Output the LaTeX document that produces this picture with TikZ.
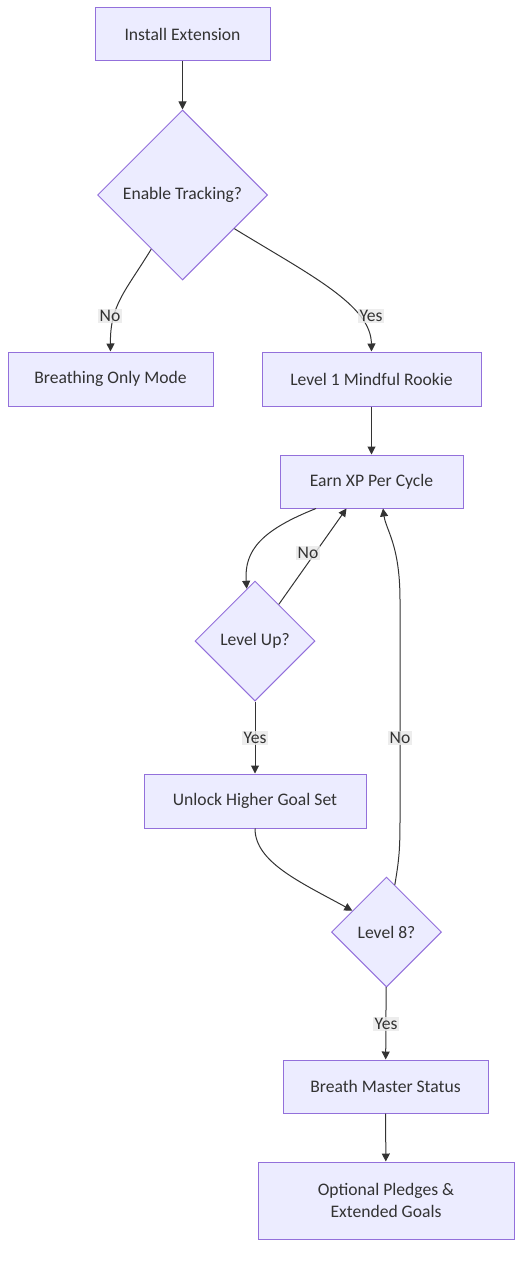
\documentclass[tikz,border=0pt]{standalone}
\usepackage{fontspec}
\setmainfont{Carlito}
\usetikzlibrary{shapes.geometric,arrows.meta}
\definecolor{nodefill}{HTML}{ECECFF}
\definecolor{nodeborder}{HTML}{9370DB}
\definecolor{linecol}{HTML}{333333}
\definecolor{labelbg}{HTML}{E8E8E8}
\tikzset{
  box/.style={draw=nodeborder, fill=nodefill, line width=0.75pt, text=linecol,
    font=\fontsize{13.2pt}{16pt}\selectfont, align=center, inner sep=0pt},
  decision/.style={diamond, aspect=1, draw=nodeborder, fill=nodefill, line width=0.75pt,
    text=linecol, font=\fontsize{13.2pt}{16pt}\selectfont, inner sep=0pt},
  conn/.style={draw=linecol, line width=0.75pt, -{Triangle[length=6pt,width=6pt]}},
  elabel/.style={fill=labelbg, fill opacity=0.8, text opacity=1, text=linecol,
    font=\fontsize{13.2pt}{16pt}\selectfont, inner sep=1pt}
}
\begin{document}
\begin{tikzpicture}[x=0.75pt,y=-0.75pt]
\useasboundingbox (0,0) rectangle (530,1266);
% nodes
\node[box, minimum width=131.25pt, minimum height=39.75pt] (install) at (182.5,34.5) {Install Extension};
\node[decision, minimum size=127.5pt] (enable) at (182.5,195) {Enable Tracking?};
\node[box, minimum width=153.75pt, minimum height=40.5pt] (breath) at (110.5,379) {Breathing Only Mode};
\node[box, minimum width=164.25pt, minimum height=40.5pt] (lvl1) at (371.5,379) {Level 1 Mindful Rookie};
\node[box, minimum width=137.25pt, minimum height=39.75pt] (earn) at (371.5,481.5) {Earn XP Per Cycle};
\node[decision, minimum size=90pt] (lvlup) at (255,641) {Level Up?};
\node[box, minimum width=166.5pt, minimum height=40.5pt] (unlock) at (255,801) {Unlock Higher Goal Set};
\node[decision, minimum size=82.5pt] (lvl8) at (386.5,932) {Level 8?};
\node[box, minimum width=153.75pt, minimum height=39.75pt] (master) at (385.5,1086.5) {Breath Master Status};
\node[box, minimum width=192pt, minimum height=57.75pt] (optional) at (386,1200.5) {Optional Pledges \&\\Extended Goals};
% connectors
\draw[conn] (install) -- (enable);
\draw[conn] (enable.240) .. controls (125,292) and (110,305) .. (breath.north);
\draw[conn] (enable.-33) .. controls (310,275) and (371,305) .. (lvl1.north);
\draw[conn] (lvl1) -- (earn);
\coordinate (e1) at (316,508.5);
\draw[conn] (e1) .. controls (262,530) and (244,550) .. (lvlup.99);
\coordinate (e2) at (346.5,508.5);
\draw[conn] (lvlup.57) -- (e2);
\draw[conn] (lvlup) -- (unlock);
\draw[conn] (unlock.south) .. controls (255,862) and (300,882) .. (lvl8.148);
\coordinate (e3) at (383,508.5);
\draw[conn] (lvl8.80) .. controls (399,860) and (400,850) .. (400,820) -- (400,600) .. controls (400,545) and (386,530) .. (e3);
\draw[conn] (lvl8) -- (master);
\draw[conn] (master) -- (optional);
% labels
\node[elabel] (lno1) at (110,316) {No};
\node[elabel] (lyes1) at (371,316) {Yes};
\node[elabel] (lno2) at (308,553) {No};
\node[elabel] (lyes2) at (255,738) {Yes};
\node[elabel] (lno3) at (400,738) {No};
\node[elabel] (lyes3) at (386,1024) {Yes};
\end{tikzpicture}
\end{document}
